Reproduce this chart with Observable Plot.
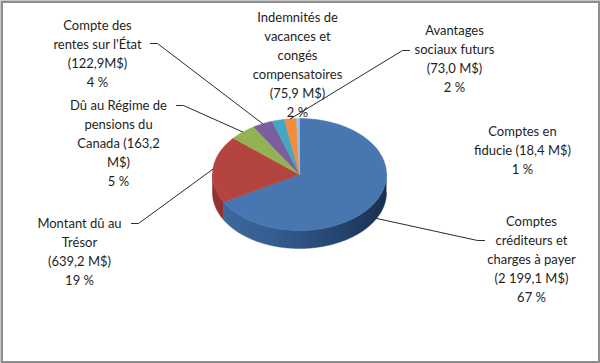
<!DOCTYPE html>
<html><head><meta charset="utf-8">
<script src="https://cdn.jsdelivr.net/npm/d3@7"></script>
<script src="https://cdn.jsdelivr.net/npm/@observablehq/plot@0.6"></script>
<style>html,body{margin:0;padding:0;background:#fff} svg{display:block}</style>
</head><body><div id="chart"></div>
<script>
// ---- data ----
const categories = [
  "Comptes créditeurs et charges à payer",
  "Montant dû au Trésor",
  "Dû au Régime de pensions du Canada",
  "Compte des rentes sur l'État",
  "Indemnités de vacances et congés compensatoires",
  "Avantages sociaux futurs",
  "Comptes en fiducie"
];
const values = [2199.1, 639.2, 163.2, 122.9, 75.9, 73.0, 18.4];
const labelTexts = [
  "Comptes\ncréditeurs et\ncharges à payer\n(2 199,1 M$)\n67 %",
  "Montant dû au\nTrésor\n(639,2 M$)\n19 %",
  "Dû au Régime de\npensions du\nCanada (163,2\nM$)\n5 %",
  "Compte des\nrentes sur l'État\n(122,9M$)\n4 %",
  "Indemnités de\nvacances et\ncongés\ncompensatoires\n(75,9 M$)\n2 %",
  "Avantages\nsociaux futurs\n(73,0 M$)\n2 %",
  "Comptes en\nfiducie (18,4 M$)\n1 %"
];
const topColors  = ["#4876B0", "#B4443F", "#92B254", "#7A5E9E", "#43A6C2", "#F08D3C", "#A3BEDF"];
const sideColors = ["url(#blueSide)", "#8F3431", "#748F40", "#5F4880", "#328399", "#C36F2B", "#7F9BBF"];

// ---- layout ----
const W = 600, H = 363;
const cx = 299, cy = 174, rx = 87, ry = 56, depth = 18;
const labelPos = [ // [x center, y top of first line]
  [531, 212], [79, 214], [118, 96], [97, 16], [297, 8], [454, 21], [522, 122]
];
const leaderAnchors = [ // [x, y, direction of tick] or null
  [484, 240, -1], [131, 223, 1], [176, 105, 1], [150, 43, 1], null, [409, 50, -1], null
];

const pie = d3.pie().sort(null).startAngle(0).endAngle(2 * Math.PI)(values);
const pt = (t, dz = 0) => [cx + rx * Math.sin(t), cy - ry * Math.cos(t) + dz];
function arcPts(a, b, dz) {
  const n = Math.max(2, Math.ceil(Math.abs(b - a) / 0.01));
  return d3.range(n + 1).map(k => pt(a + (b - a) * k / n, dz));
}

const sides = [], tops = [];
pie.forEach((p, i) => {
  const s = Math.max(p.startAngle, Math.PI / 2), e = Math.min(p.endAngle, 3 * Math.PI / 2);
  if (s < e) {
    const poly = [...arcPts(s, e, 0), ...arcPts(e, s, depth)];
    sides.push({i, poly: poly.map(([x, y]) => ({x, y}))});
  }
  const poly = [[cx, cy], ...arcPts(p.startAngle, p.endAngle, 0), [cx, cy]];
  tops.push({i, poly: poly.map(([x, y]) => ({x, y}))});
});

const leaders = [];
pie.forEach((p, i) => {
  const a = leaderAnchors[i];
  if (!a) return;
  const mid = (p.startAngle + p.endAngle) / 2;
  const front = Math.cos(mid) < 0;
  const [ex, ey] = pt(mid, front ? depth * 0.85 : 0);
  leaders.push({id: i, x: a[0], y: a[1]});
  leaders.push({id: i, x: a[0] + a[2] * 7, y: a[1]});
  leaders.push({id: i, x: ex, y: ey});
});

const labels = labelTexts.map((t, i) => ({text: t, x: labelPos[i][0], y: labelPos[i][1]}));

const marks = [];
sides.forEach(s => marks.push(Plot.line(s.poly, {x: "x", y: "y", fill: sideColors[s.i], stroke: sideColors[s.i], strokeWidth: 0.5, curve: "linear"})));
tops.forEach(s => marks.push(Plot.line(s.poly, {x: "x", y: "y", fill: topColors[s.i], stroke: topColors[s.i], strokeWidth: 0.5, curve: "linear"})));
marks.push(Plot.line(leaders, {x: "x", y: "y", z: "id", stroke: "#2a2a2a", strokeWidth: 1}));
marks.push(Plot.text(labels, {x: "x", y: "y", text: "text", textAnchor: "middle", lineAnchor: "top",
  fontSize: 13, lineHeight: 1.46, fill: "#1e1e1e", fontFamily: "Lato"}));
marks.push(Plot.frame({stroke: "#8e8e8e", strokeWidth: 2.5, inset: 1.25}));

const svg = Plot.plot({
  width: W, height: H, margin: 0,
  x: {domain: [0, W], range: [0, W], axis: null},
  y: {domain: [0, H], range: [0, H], axis: null},
  style: {background: "#fff", fontFamily: "Lato"},
  marks
});
d3.select(svg).insert("defs", ":first-child").html(
  `<linearGradient id="blueSide" gradientUnits="userSpaceOnUse" x1="${cx - rx}" x2="${cx + rx}" y1="0" y2="0">
     <stop offset="0" stop-color="#3E6BA0"/>
     <stop offset="0.35" stop-color="#345D90"/>
     <stop offset="0.7" stop-color="#264671"/>
     <stop offset="1" stop-color="#1A2F4F"/>
   </linearGradient>`);
document.getElementById("chart").append(svg);
</script>
</body></html>
